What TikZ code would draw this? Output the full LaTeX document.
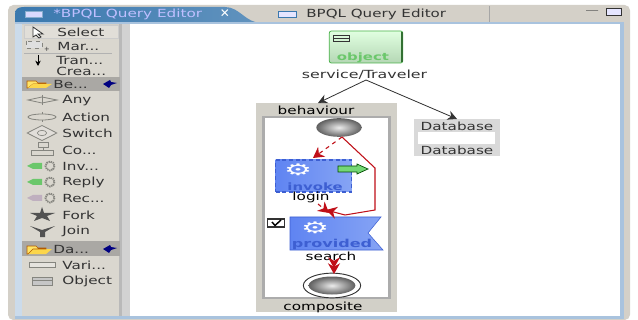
\documentclass[tikz,border=0pt]{standalone}
\usepackage{fontspec}
\setmainfont{DejaVu Sans}
\usetikzlibrary{arrows.meta,shapes.geometric,shadings}
\definecolor{win}{HTML}{D4D0C8}
\definecolor{pal}{HTML}{DAD7CF}
\definecolor{edge}{HTML}{A9C3DE}
\definecolor{tabblue}{HTML}{3A78AE}
\definecolor{frame}{HTML}{D2D0C8}
\definecolor{rd}{HTML}{C00F18}
\definecolor{dk}{HTML}{333333}
\definecolor{icon}{HTML}{85857F}
\definecolor{bluea}{HTML}{5F84F2}
\definecolor{blueb}{HTML}{86A4F4}
\definecolor{bluet}{HTML}{3D5FD2}
\tikzset{
 x=0.75pt,y=-0.75pt,
 txt/.style={font=\fontsize{8.4pt}{9pt}\selectfont,text=dk,inner sep=0pt,anchor=west,transform shape,xscale=1.36},
 mid/.style={txt,anchor=center},
 lab/.style={mid,font=\bfseries\fontsize{7.6pt}{8pt}\selectfont,xscale=1.08},
 cog/.style={mid,font=\fontsize{12pt}{12pt}\selectfont,text=white,xscale=1.46},
 gl/.style={draw=icon,line width=0.6pt},
 blk/.style={draw=black!80,line width=0.6pt,-{Stealth[length=7pt,width=7pt]}},
 flow/.style={draw=rd!80!black,line width=0.8pt,-{Stealth[length=8pt,width=9pt]},rd},
 ball/.style={ellipse,draw=none,inner sep=0pt,inner color=white!85!gray,outer color=gray!75!black},
 folder/.style={fill=orange!35!yellow!60,draw=orange!70!black,line width=0.4pt},
 pin/.style={fill=blue!50!black,draw=none},
}
\begin{document}
\begin{tikzpicture}
\useasboundingbox (0,0) rectangle (638,320);
\fill[white] (0,0) rectangle (638,320);
% window
\fill[win,rounded corners=4pt] (8,5) -- (630,5) -- (630,320) -- (8,320) -- cycle;
\fill[edge!60!white] (15,23) rectangle (22,316);
\fill[pal] (22,25) rectangle (119,316);
\fill[gray!55] (119,23) rectangle (122,316);
\fill[gray!35] (122,23) rectangle (130,316);
\fill[white] (130,23) rectangle (620,316);
\fill[edge] (620,23) rectangle (624,316);
\fill[edge] (15,316) rectangle (624,319);
\draw[gray!70,line width=0.5pt] (489,6) -- (489,23);
% active tab
\path[left color=tabblue,right color=tabblue!80!white]
  (15,23) -- (15,14) .. controls (15,9) and (18,7) .. (24,7) -- (225,7)
  .. controls (240,7) and (245,23) .. (262,23) -- cycle;
\fill[edge] (15,22) rectangle (624,24);
\node[draw=tabblue!60!white,fill=white!85!blue,line width=0.5pt,minimum width=12.5pt,minimum height=4.5pt,inner sep=0pt] (tabicon1) at (33.5,14) {};
\node[txt,text=white!75!blue] (tab1) at (53,14) {*BPQL Query Editor};
\node[font=\bfseries\fontsize{9pt}{10pt}\selectfont,text=white,inner sep=0pt] (tabx) at (225,14) {✕};
\node[draw=tabblue,fill=white!90!blue,line width=0.5pt,minimum width=13.5pt,minimum height=4.5pt,inner sep=0pt] (tabicon2) at (287.5,14) {};
\node[txt,xscale=0.99] (tab2) at (306,14) {BPQL Query Editor};
\node[draw=gray!70!black,line width=0.6pt,minimum width=9pt,minimum height=0pt,inner sep=0pt] (minb) at (592,10) {};
\node[draw=dk,fill=white!90!blue,line width=0.6pt,minimum width=11pt,minimum height=5pt,inner sep=0pt] (maxb) at (614,12) {};
% palette
\fill[win!70!white,draw=gray!40,line width=0.3pt] (24,25) rectangle (118,38);
\draw[gl,draw=dk,fill=white] (33,27) -- (33,37) -- (36,35) -- (39,38) -- (41,37) -- (38,34) -- (43,34) -- cycle;
\node[txt] (p1) at (57,32) {Select};
\draw[gl,dashed,fill=gray!25] (26,41) rectangle (42,48);
\node[font=\tiny,inner sep=0pt,text=dk] (mplus) at (47,49) {+};
\node[txt] (p2) at (57,46) {Mar...};
\draw[gray!60,line width=0.4pt] (24,53) -- (112,53);
\draw[black,line width=0.7pt,-{Stealth[length=4pt,width=4pt]}] (38,55) -- (38,66);
\node[txt] (p3) at (56,60) {Tran...};
\node[txt] (p3b) at (56,71) {Crea...};
\fill[gray!50!win] (22,77) rectangle (120,91);
\draw[folder] (27,88) -- (27,81) -- (36,81) -- (38,83) -- (46,83) -- (46,84) -- (33,84) -- (28,88) -- cycle;
\fill[yellow!60!orange!70] (28,88) -- (33,84) -- (52,84) -- (46,88) -- cycle;
\node[txt] (p4) at (53,84) {Be...};
\fill[pin] (103,84) -- (110,80) -- (111,82) -- (117,83) -- (111,85) -- (109,88) -- cycle;
% palette items
\draw[gl,fill=pal] (28,100) -- (42,97) -- (57,100) -- (42,103) -- cycle; \draw[gl] (42,95) -- (42,105);
\node[txt] (p5) at (62,101) {Any};
\draw[gl,fill=pal] (42,117) ellipse (14 and 3); \draw[gl] (42,112) -- (42,114); \draw[gl] (42,120) -- (42,122);
\node[txt] (p6) at (62,117) {Action};
\node[diamond,draw=icon,fill=win!70!white,line width=0.6pt,minimum width=22.5pt,minimum height=11.5pt,inner sep=0pt] (swi) at (42,133) {};
\node[ellipse,draw=icon,line width=0.5pt,minimum width=7pt,minimum height=4pt,inner sep=0pt] (swic) at (42,133) {};
\node[txt] (p7) at (62,133) {Switch};
\draw[gl] (38,142) rectangle (48,147); \draw[gl] (31,150) rectangle (53,155); \draw[gl] (43,147) -- (43,150);
\node[txt] (p8) at (62,150) {Co...};
\fill[green!45!gray!80] (27,166) -- (33,163) -- (42,163) -- (42,169) -- (33,169) -- cycle;
\draw[icon,line width=1.4pt,dash pattern=on 1pt off 0.6pt] (50,166) circle (4.5);
\node[txt] (p8b) at (62,166) {Inv...};
\fill[green!45!gray!80] (27,182) -- (33,179) -- (42,179) -- (42,185) -- (33,185) -- cycle;
\draw[icon,line width=1.4pt,dash pattern=on 1pt off 0.6pt] (50,182) circle (4.5);
\node[txt] (p8c) at (62,182) {Reply};
\fill[violet!25!gray!50] (27,198) -- (33,195) -- (42,195) -- (42,201) -- (33,201) -- cycle;
\draw[icon,line width=1.4pt,dash pattern=on 1pt off 0.6pt] (50,198) circle (4.5);
\node[txt] (p8d) at (62,198) {Rec...};
% fork/join
\fill[dk!85!white] (30,213) -- (40,213) -- (42,207) -- (44,213) -- (55,213) -- (47,216) -- (50,221) -- (42,218) -- (34,221) -- (37,216) -- cycle;
\node[txt] (p9) at (62,215) {Fork};
\fill[dk!85!white] (30,226) -- (42,230) -- (55,226) -- (45,232) -- (45,237) -- (40,237) -- (40,232) -- cycle;
\node[txt] (p10) at (62,231) {Join};
\fill[gray!50!win] (22,241) rectangle (120,256);
\fill[yellow!60!orange!70] (27,254) -- (33,249) -- (52,249) -- (46,254) -- cycle;
\draw[folder] (27,254) -- (27,246) -- (36,246) -- (38,248) -- (46,248) -- (46,249) -- (33,249) -- (28,254) -- cycle;
\node[txt] (p11) at (53,249) {Da...};
\fill[pin] (103,249) -- (110,245) -- (111,247) -- (117,248) -- (111,250) -- (109,253) -- cycle;
\draw[gl,fill=win!60!white] (29,262) rectangle (55,267);
\node[txt] (p12) at (62,265) {Vari...};
\draw[gl,fill=gray!45] (32,277) rectangle (52,285);\draw[gl] (32,280) -- (52,280);
\node[txt] (p13) at (62,281) {Object};
% object
\node[draw=green!40!gray,line width=0.6pt,rounded corners=1.5pt,top color=green!12!white,bottom color=green!30!gray!45,minimum width=55pt,minimum height=24pt,inner sep=0pt] (object) at (366,47) {};
\draw[green!30!black!80,line width=0.9pt] (402,32) -- (402,62);
\node[draw=dk,line width=0.5pt,minimum width=12pt,minimum height=4.5pt,inner sep=0pt] (objicon) at (341,38) {};
\draw[dk,line width=0.4pt] (333,38) -- (349,38);
\node[lab,text=green!45!gray!80] (objlabel) at (363,58) {object};
\node[mid,xscale=1.04] (service) at (364.5,75) {service/Traveler};
% behaviour
\fill[frame] (256,103) rectangle (397,312);
\node[mid,text=black] (behaviour) at (316,110) {behaviour};
\node[mid,text=black] (composite) at (323,307) {composite};
\fill[gray!65] (262,116) rectangle (391,299);
\fill[white] (265,118.5) rectangle (388,296.5);
% database
\fill[gray!30] (414,119) rectangle (500,156);
\fill[white] (418,132) rectangle (495,144);
\node[mid] (db1) at (457,126) {Database};
\node[mid] (db2) at (457,150) {Database};
\coordinate (svc) at (366,80);
\coordinate (behTop) at (318,103);
\coordinate (dbTop) at (457,119);
\draw[blk] (svc) -- (behTop);
\draw[blk] (svc) -- (dbTop);
% start
\node[ball,minimum width=34pt,minimum height=14pt] (start) at (339,127.5) {};
% invoke
\node[draw=bluet,dash pattern=on 3pt off 2pt,line width=1.3pt,left color=bluea,right color=blueb,minimum width=57pt,minimum height=24pt,inner sep=0pt] (invoke) at (313.5,176) {};
\node[lab,text=bluet] (invlabel) at (315,186.5) {invoke};
\node[cog] (gear1) at (298,170) {⚙};
\path[draw=green!30!black,fill=green!55!gray!70,line width=0.5pt] (338,166) -- (357,166) -- (357,164) -- (368,169) -- (357,174) -- (357,172) -- (338,172) -- cycle;
\node[mid,text=black] (login) at (311,197) {login};
% provided
\path[draw=bluet,line width=0.4pt,left color=bluea,right color=blueb] (290,217) -- (381,217) -- (368,233) -- (383,250) -- (290,250) -- cycle;
\node[lab,font=\bfseries\fontsize{8.2pt}{9pt}\selectfont,text=bluet] (provlabel) at (332,244.5) {provided};
\node[cog] (gear2) at (315,228) {⚙};
\node[draw=dk,line width=0.8pt,fill=white,minimum width=13pt,minimum height=6pt,inner sep=0pt] (check) at (276,223) {};
\draw[black,line width=1.1pt] (272,222) -- (275,225.5) -- (281,220);
\node[mid,text=black] (search) at (331,256) {search};
% end
\node[ellipse,draw=dk,line width=0.7pt,fill=white,minimum width=43pt,minimum height=18.5pt,inner sep=0pt] (endring) at (332,285.5) {};
\node[ball,minimum width=35pt,minimum height=13.5pt] (endball) at (332,285.5) {};
% flows
\coordinate (s1) at (342,137);
\coordinate (a1) at (313,158);
\coordinate (r1) at (375,168);
\coordinate (r2) at (375,210);
\coordinate (r3) at (345,215);
\coordinate (r4) at (326,210);
\coordinate (l1) at (318,204);
\coordinate (l2) at (329,213);
\coordinate (e1) at (334,262);
\coordinate (e2) at (334,274);
\coordinate (e3) at (334,268);
\draw[flow,dashed] (s1) -- (a1);
\draw[flow] (s1) -- (r1) -- (r2) -- (r3) -- (r4);
\draw[flow,dashed] (l1) -- (l2);
\draw[flow,line width=1pt] (e1) -- (e2);
\draw[flow,line width=1pt] (e1) -- (e3);
\end{tikzpicture}
\end{document}
